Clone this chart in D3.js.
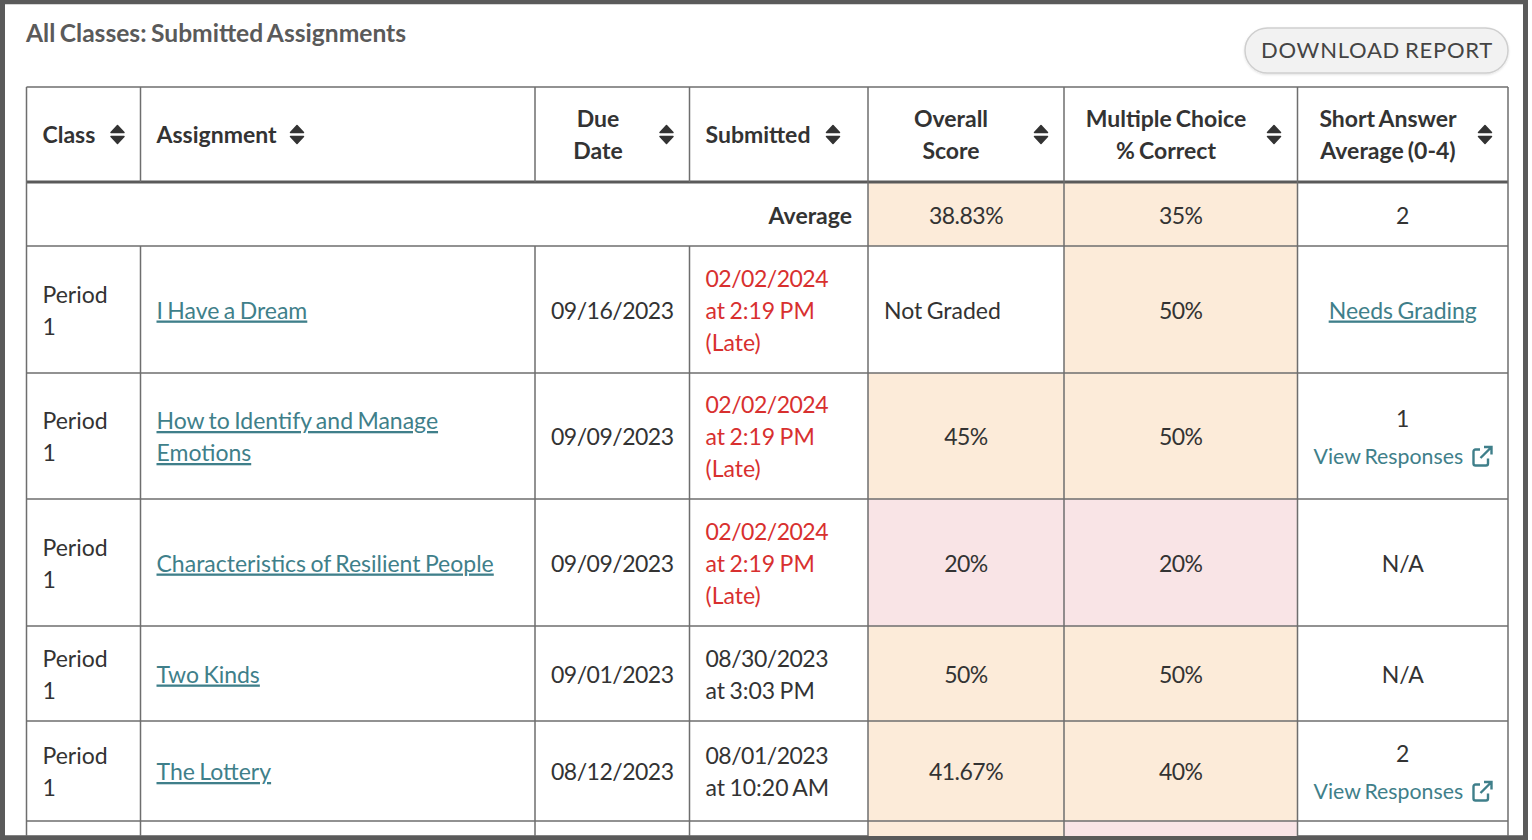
<!DOCTYPE html>
<html>
<head>
<meta charset="utf-8">
<script src="https://cdn.jsdelivr.net/npm/d3@7"></script>
<style>
  html, body { margin: 0; padding: 0; background: #fff; }
  svg { display: block; }
  text { font-family: Lato, sans-serif; font-size: 23px; fill: #333; word-spacing: -1.5px; }
  .bold { font-weight: 700; }
  .link { fill: #3f7f8a; }
  .late { fill: #d8302f; }
  .num { letter-spacing: -0.5px; }
  .small { font-size: 21.3px; }
</style>
</head>
<body>
<svg id="chart" width="1532" height="840"></svg>
<script>
// data
const title = "All Classes: Submitted Assignments"
const buttonLabel = "DOWNLOAD REPORT"
const columns = ["class", "assignment", "due", "submitted", "overall", "choice", "short"]
const headers = ["Class", "Assignment", "Due\nDate", "Submitted", "Overall\nScore", "Multiple Choice\n% Correct", "Short Answer\nAverage (0-4)"]

const classes = ["Period\n1", "Period\n1", "Period\n1", "Period\n1", "Period\n1"]
const assignments = ["I Have a Dream", "How to Identify and Manage\nEmotions", "Characteristics of Resilient People", "Two Kinds", "The Lottery"]
const dueDates = ["09/16/2023", "09/09/2023", "09/09/2023", "09/01/2023", "08/12/2023"]
const submitted = ["02/02/2024\nat 2:19 PM\n(Late)", "02/02/2024\nat 2:19 PM\n(Late)", "02/02/2024\nat 2:19 PM\n(Late)", "08/30/2023\nat 3:03 PM", "08/01/2023\nat 10:20 AM"]
const overallScores = [null, 45, 20, 50, 41.67]
const choiceScores = [50, 50, 20, 50, 40]
const shortAnswers = ["Needs Grading", "1", "N/A", "N/A", "2"]
const hasResponses = [false, true, false, false, true]

const averageLabel = "Average"
const averages = { overall: 38.83, choice: 35, short: "2" }

// only the top of the sixth row is visible, its colours are all that can be read
const partialRow = { overall: 45, choice: 20 }

// layout
const colEdges = [26.5, 140.5, 535, 689.5, 868, 1064, 1297.5]
const tableRight = 1508
const rowEdges = [87, 182, 246, 373, 499, 626, 721, 821, 836]
const lineHeight = 32
const baselineShift = 8

const svg = d3.select("#chart")

const colLeft = d3.scaleOrdinal(columns, colEdges)
const colRight = d3.scaleOrdinal(columns, colEdges.slice(1).concat(tableRight))
const colMid = c => (colLeft(c) + colRight(c)) / 2
const scoreFill = d3.scaleThreshold([30], ["#f9e4e6", "#fcebd9"])

// page background and frame
svg.append("rect").attr("x", 2.5).attr("y", 1.75).attr("width", 1523).attr("height", 836)
    .attr("fill", "#fff").attr("stroke", "#5a5a5a").attr("stroke-width", 5)
svg.append("rect").attr("x", 1529).attr("y", 0).attr("width", 3).attr("height", 840).attr("fill", "#fff")

// draws text, one line per \n, centred vertically on y
function addText(g, str, x, y, anchor, cls) {
    let lines = str.split("\n")
    lines.forEach((line, i) => {
        g.append("text")
            .attr("x", x)
            .attr("y", y + baselineShift + (i - (lines.length - 1) / 2) * lineHeight)
            .attr("text-anchor", anchor)
            .attr("class", [cls, /^\d.*\d%?$/.test(line) ? "num" : null].filter(Boolean).join(" ") || null)
            .text(line)
    })
}

// title and button
svg.append("text").attr("x", 26).attr("y", 42).attr("class", "bold")
    .style("fill", "#5a5a5a").style("font-size", "24.6px").text(title)

const defs = svg.append("defs")
const shadow = defs.append("filter").attr("id", "btn-shadow")
shadow.append("feDropShadow").attr("dx", 0).attr("dy", 1).attr("stdDeviation", 1)
    .attr("flood-color", "#000").attr("flood-opacity", 0.12)
svg.append("rect").attr("x", 1245).attr("y", 28).attr("width", 263).attr("height", 45).attr("rx", 22.5)
    .attr("fill", "#f2f2f2").attr("stroke", "#cfcfcf").attr("stroke-width", 1.5)
    .attr("filter", "url(#btn-shadow)")
svg.append("text").attr("x", 1377).attr("y", 58).attr("text-anchor", "middle")
    .style("font-size", "22px").style("letter-spacing", "0.75px").style("fill", "#444").text(buttonLabel)

// row geometry helpers, body text sits 1px under the row centre
const rowMid = i => (rowEdges[i + 2] + rowEdges[i + 3]) / 2 + 1
const table = svg.append("g")

// coloured cells
const bands = []
bands.push({ col: "overall", top: rowEdges[1], bottom: rowEdges[2], score: averages.overall })
bands.push({ col: "choice", top: rowEdges[1], bottom: rowEdges[2], score: averages.choice })
classes.forEach((d, i) => {
    if (overallScores[i] !== null) {
        bands.push({ col: "overall", top: rowEdges[i + 2], bottom: rowEdges[i + 3], score: overallScores[i] })
    }
    bands.push({ col: "choice", top: rowEdges[i + 2], bottom: rowEdges[i + 3], score: choiceScores[i] })
})
bands.push({ col: "overall", top: rowEdges[7], bottom: rowEdges[8], score: partialRow.overall })
bands.push({ col: "choice", top: rowEdges[7], bottom: rowEdges[8], score: partialRow.choice })

table.selectAll("rect.band")
    .data(bands)
    .join("rect")
    .attr("class", "band")
    .attr("x", d => colLeft(d.col))
    .attr("width", d => colRight(d.col) - colLeft(d.col))
    .attr("y", d => d.top)
    .attr("height", d => d.bottom - d.top)
    .attr("fill", d => scoreFill(d.score))

// grid lines
const gridColor = "#6e6e6e"
const hLines = rowEdges.slice(0, 8)
table.selectAll("line.h")
    .data(hLines)
    .join("line")
    .attr("class", "h")
    .attr("x1", colEdges[0]).attr("x2", tableRight)
    .attr("y1", d => d).attr("y2", d => d)
    .attr("stroke", (d, i) => i == 1 ? "#5a5a5a" : gridColor)
    .attr("stroke-width", (d, i) => i == 1 ? 3 : 1.5)

const vSegments = []
columns.forEach((c, i) => {
    if (i == 0 || i > 3) {
        vSegments.push({ x: colLeft(c), y1: rowEdges[0], y2: rowEdges[8] })
    } else {
        // the average row spans the first four columns
        vSegments.push({ x: colLeft(c), y1: rowEdges[0], y2: rowEdges[1] })
        vSegments.push({ x: colLeft(c), y1: rowEdges[2], y2: rowEdges[8] })
    }
})
vSegments.push({ x: tableRight, y1: rowEdges[0], y2: rowEdges[8] })
table.selectAll("line.v")
    .data(vSegments)
    .join("line")
    .attr("class", "v")
    .attr("x1", d => d.x).attr("x2", d => d.x)
    .attr("y1", d => d.y1).attr("y2", d => d.y2)
    .attr("stroke", gridColor).attr("stroke-width", 1.5)

// header, text positions per column
const headerAnchor = ["start", "start", "middle", "start", "middle", "middle", "middle"]
const headerX = [42.5, 156.5, 598, 705.5, 951, 1166, 1388]
const sortX = [117.5, 297, 666.5, 833, 1041, 1274, 1485]
const headerMid = (rowEdges[0] + rowEdges[1]) / 2

headers.forEach((h, i) => {
    addText(table, h, headerX[i], headerMid + 0.5, headerAnchor[i], "bold")
    let g = table.append("g").attr("transform", `translate(${sortX[i]},${headerMid})`)
    g.append("path").attr("d", "M-6.5,-2 L0,-9 L6.5,-2 Z")
    g.append("path").attr("d", "M-6.5,2 L0,9 L6.5,2 Z")
    g.selectAll("path").attr("fill", "#333").attr("stroke", "#333")
        .attr("stroke-width", 1.5).attr("stroke-linejoin", "round")
})

// average row
const avgMid = (rowEdges[1] + rowEdges[2]) / 2 + 1.5
addText(table, averageLabel, colRight("submitted") - 16, avgMid, "end", "bold")
addText(table, averages.overall + "%", colMid("overall"), avgMid, "middle")
addText(table, averages.choice + "%", colMid("choice"), avgMid, "middle")
addText(table, averages.short, colMid("short"), avgMid, "middle")

// little arrow out of a box after "View Responses"
function addExternalIcon(g, x, y) {
    let icon = g.append("g").attr("transform", `translate(${x},${y})`)
        .attr("fill", "none").attr("stroke", "#3f7f8a").attr("stroke-width", 2.4)
    icon.append("path").attr("d", "M7,-7 H2.5 a2,2 0 0 0 -2,2 V7 a2,2 0 0 0 2,2 H13 a2,2 0 0 0 2,-2 V2")
    icon.append("path").attr("d", "M7.5,1.5 L18,-9 M11,-9.5 H18.5 V-2")
}

// body rows
classes.forEach((d, i) => {
    let y = rowMid(i)
    addText(table, classes[i], colLeft("class") + 16, y, "start")
    addText(table, assignments[i], colLeft("assignment") + 16, y, "start", "link underline")
    addText(table, dueDates[i], colLeft("due") + 16, y, "start")
    addText(table, submitted[i], colLeft("submitted") + 16, y, "start", submitted[i].includes("Late") ? "late" : null)

    if (overallScores[i] === null) {
        addText(table, "Not Graded", colLeft("overall") + 16, y, "start")
    } else {
        addText(table, overallScores[i] + "%", colMid("overall"), y, "middle")
    }
    addText(table, choiceScores[i] + "%", colMid("choice"), y, "middle")

    if (hasResponses[i]) {
        addText(table, shortAnswers[i], colMid("short"), y - 18.5, "middle")
        addText(table, "View Responses", colLeft("short") + 16, y + 19, "start", "link small")
        addExternalIcon(table, 1473, y + 19.5)
    } else if (shortAnswers[i] == "Needs Grading") {
        addText(table, shortAnswers[i], colMid("short"), y, "middle", "link underline")
    } else {
        addText(table, shortAnswers[i], colMid("short"), y, "middle")
    }
})

table.selectAll("text.underline").style("text-decoration", "underline")
</script>
</body>
</html>
